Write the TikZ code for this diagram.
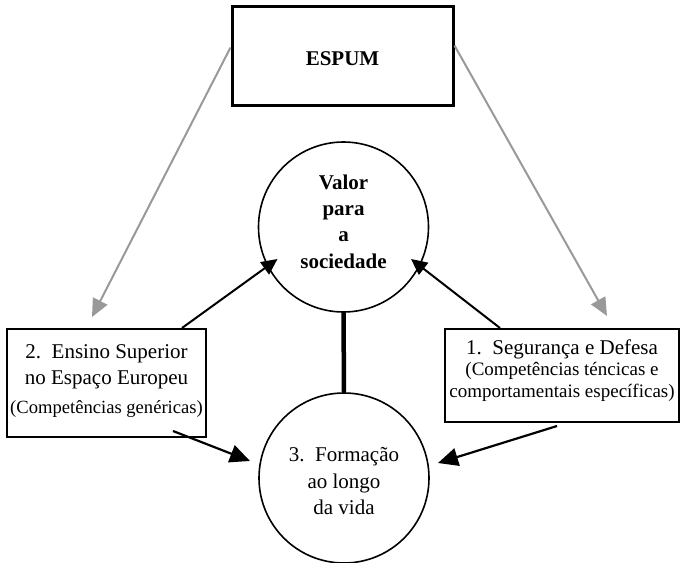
\documentclass[tikz,border=0pt]{standalone}
\usepackage{fontspec}
\setmainfont{Liberation Serif}
\usetikzlibrary{arrows.meta,calc}
\definecolor{arrgray}{HTML}{999999}
\tikzset{
  box/.style={draw=black, rectangle, inner sep=0pt},
  circ/.style={draw=black, circle, line width=1.6pt, minimum size=170pt, inner sep=0pt},
  main/.style={font=\fontsize{21}{25}\selectfont, inner sep=0pt, anchor=base},
  sub/.style={font=\fontsize{19}{23}\selectfont, inner sep=0pt, anchor=base},
  boldtxt/.style={font=\fontsize{21}{25}\selectfont\bfseries, inner sep=0pt, anchor=base},
  grayarrow/.style={draw=arrgray, line width=2pt, -{Triangle[length=18pt,width=16pt]}, arrgray},
  blackarrow/.style={draw=black, line width=2pt, -{Triangle[length=16pt,width=15pt]}},
  bigarrow/.style={draw=black, line width=2.2pt, -{Triangle[length=20pt,width=18pt]}},
}
\begin{document}
\begin{tikzpicture}[x=1pt,y=-1pt]
\useasboundingbox (0,0) rectangle (681,563);
% boxes
\node[box, line width=3pt, minimum width=221pt, minimum height=99pt] (espum) at (342.5,55.5) {};
\node[boldtxt] (espumtxt) at (342.5,65) {ESPUM};
\node[box, line width=2pt, minimum width=199pt, minimum height=108pt] (lbox) at (106.5,383) {};
\node[box, line width=2pt, minimum width=234pt, minimum height=93pt] (rbox) at (562,375.5) {};
% circles
\node[circ] (c1) at (343.5,227) {};
\node[circ] (c2) at (344,478) {};
% circle texts
\node[boldtxt] (v1) at (343.5,189) {Valor};
\node[boldtxt] (v2) at (343.5,215) {para};
\node[boldtxt] (v3) at (343.5,241) {a};
\node[boldtxt] (v4) at (343.5,268) {sociedade};
\node[main] (f1) at (344,461) {3.\ \ Formação};
\node[main] (f2) at (344,488) {ao longo};
\node[main] (f3) at (344,514) {da vida};
% left box texts
\node[main] (l1) at (106.5,358) {2.\ \ Ensino Superior};
\node[main] (l2) at (106.5,384) {no Espaço Europeu};
\node[sub, font=\fontsize{18.6}{22}\selectfont] (l3) at (106.5,413) {(Competências genéricas)};
% right box texts
\node[main] (r1) at (562,354) {1.\ \ Segurança e Defesa};
\node[sub] (r2) at (562,375) {(Competências téncicas e};
\node[sub] (r3) at (562,397) {comportamentais específicas)};
% gray connectors
\coordinate (gl) at ($(lbox.north)+(-14.5,-11)$);
\coordinate (gr) at ($(rbox.north)+(45,-12)$);
\draw[grayarrow] ([yshift=8pt]espum.west) -- (gl);
\draw[grayarrow] ([yshift=10pt]espum.east) -- (gr);
% black arrows to upper circle
\coordinate (a1) at ($(c1.center)+(-66,32)$);
\coordinate (a2) at ($(c1.center)+(67.5,32)$);
\draw[blackarrow] ([xshift=75.5pt]lbox.north) -- (a1);
\draw[blackarrow] ([xshift=-62pt]rbox.north) -- (a2);
% arrows to lower circle
\coordinate (s1) at ($(lbox.south)+(66.5,-7)$);
\coordinate (b1) at ($(c2.center)+(-94,-17)$);
\coordinate (s2) at ($(rbox.south)+(-5,3)$);
\coordinate (b2) at ($(c2.center)+(94,-15)$);
\draw[bigarrow] (s1) -- (b1);
\draw[bigarrow] (s2) -- (b2);
% thick connector
\draw[line width=4.5pt] (c1.south) -- (c2.north);
\end{tikzpicture}
\end{document}
